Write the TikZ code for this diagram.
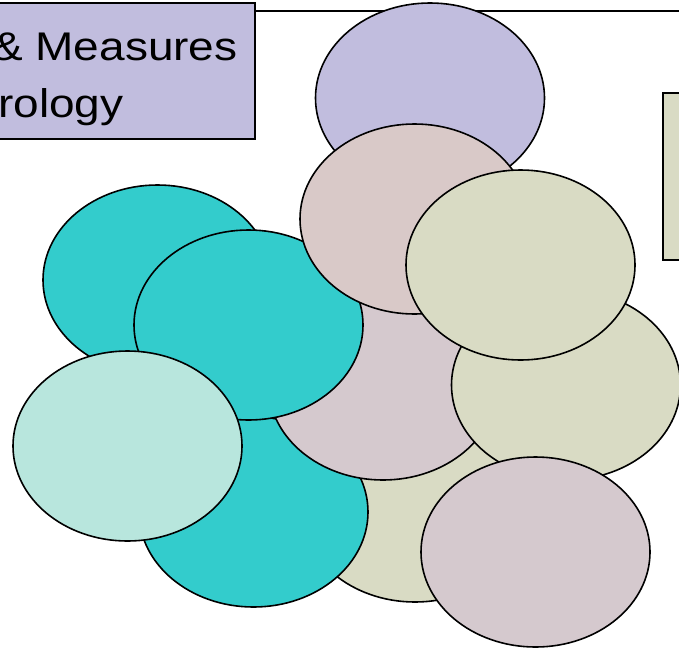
\documentclass[tikz,border=0pt]{standalone}
\usepackage{fontspec}
\newfontfamily\titlefont[FakeStretch=1.15]{Liberation Sans}

\definecolor{lavender}{RGB}{193,189,222}
\definecolor{rosegrey}{RGB}{217,201,200}
\definecolor{mauvegrey}{RGB}{213,201,206}
\definecolor{olivegrey}{RGB}{217,219,196}
\definecolor{tealblob}{RGB}{51,204,204}
\definecolor{paleteal}{RGB}{184,230,221}

\begin{document}
\begin{tikzpicture}[x=1pt,y=-1pt,
    blob/.style={draw=black, line width=1.6pt},
    titletext/.style={anchor=base west, inner sep=0pt, font=\titlefont\fontsize{40}{48}\selectfont}]
                    \clip (0,0) rectangle (679,648);
                    \draw[line width=1.6pt] (255,11) -- (690,11);
                    \draw[blob, fill=lavender] (-10,3) rectangle (255,139);
                    \node[titletext] (title1) at (-8,60) {\& Measures};
                    \node[titletext] (title2) at (-2,117) {rology};
                    \draw[blob, fill=olivegrey] (663,93) rectangle (690,260);
                    \draw[blob, fill=olivegrey] (415,507) ellipse (114.5pt and 95pt);
                    \draw[blob, fill=tealblob] (253.5,512) ellipse (114.5pt and 95pt);
                    \draw[blob, fill=mauvegrey] (383,385) ellipse (114.5pt and 95pt);
                    \draw[blob, fill=lavender] (430,98) ellipse (114.5pt and 95pt);
                    \draw[blob, fill=tealblob] (157.5,280) ellipse (114.5pt and 95pt);
                    \draw[blob, fill=tealblob] (248.5,325) ellipse (114.5pt and 95pt);
                    \draw[blob, fill=rosegrey] (414.5,219) ellipse (114.5pt and 95pt);
                    \draw[blob, fill=olivegrey] (566,385) ellipse (114.5pt and 95pt);
                    \draw[blob, fill=olivegrey] (520.5,265) ellipse (114.5pt and 95pt);
                    \draw[blob, fill=paleteal] (127.5,446) ellipse (114.5pt and 95pt);
                    \draw[blob, fill=mauvegrey] (535.5,552) ellipse (114.5pt and 95pt);
                \end{tikzpicture}
\end{document}
